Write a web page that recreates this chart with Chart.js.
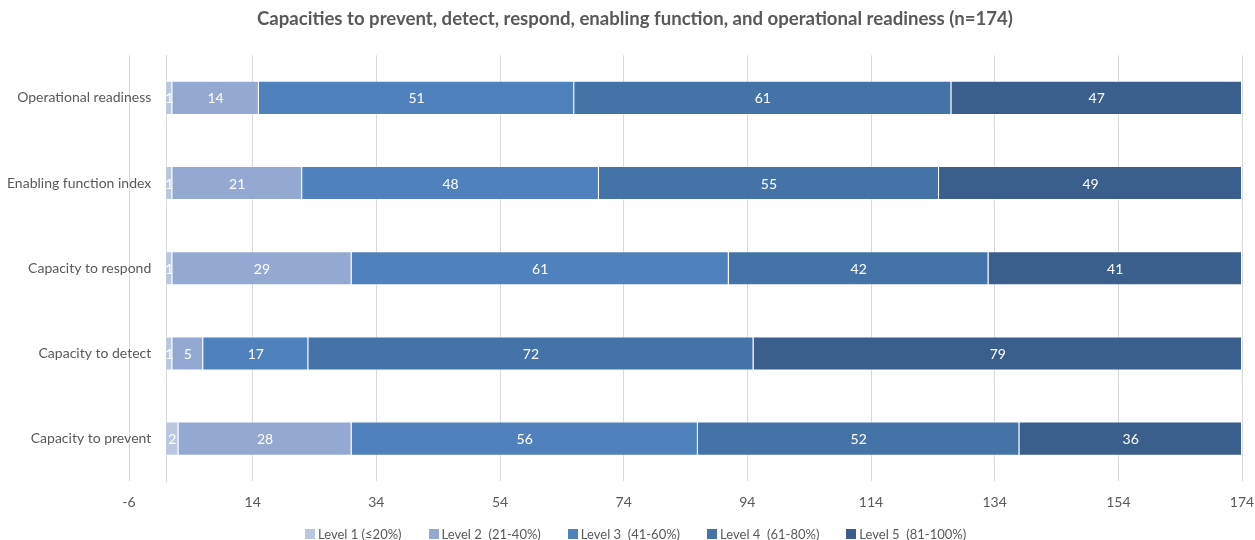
<!DOCTYPE html>
<html>
<head>
<meta charset="utf-8">
<script src="https://cdn.jsdelivr.net/npm/chart.js@4.4.1/dist/chart.umd.min.js"></script>
<style>
html,body{margin:0;padding:0;background:#fff;}
#wrap{width:1255px;height:540px;position:relative;}
#legend{position:absolute;left:305px;top:525px;height:17px;display:flex;align-items:center;gap:27px;font-family:Lato,sans-serif;font-size:13px;color:#595959;white-space:pre;}
#legend .item{display:flex;align-items:center;}
#legend .box{width:10px;height:10px;margin-right:3px;}
</style>
</head>
<body>
<div id="wrap"><canvas id="c" width="1255" height="540"></canvas><div id="legend"></div></div>
<script>
const categories = ['Operational readiness','Enabling function index','Capacity to respond','Capacity to detect','Capacity to prevent'];
const seriesNames = ['Level 1 (\u226420%)','Level 2  (21-40%)','Level 3  (41-60%)','Level 4  (61-80%)','Level 5  (81-100%)'];
const level1 = [1,1,1,1,2];
const level2 = [14,21,29,5,28];
const level3 = [51,48,61,17,56];
const level4 = [61,55,42,72,52];
const level5 = [47,49,41,79,36];
const xTickValues = [-6,14,34,54,74,94,114,134,154,174];
const colors = ['#b9c7e1','#94a9d2','#4f81bd','#4473a8','#3a5f8d'];
const titleText = 'Capacities to prevent, detect, respond, enabling function, and operational readiness (n=174)';

const FONT = 'Lato';
const GREY = '#595959';

const valueLabels = {
  id: 'valueLabels',
  afterDatasetsDraw(chart) {
    const ctx = chart.ctx;
    ctx.save();
    ctx.fillStyle = '#ffffff';
    ctx.font = '14px ' + FONT;
    ctx.textAlign = 'center';
    ctx.textBaseline = 'middle';
    chart.data.datasets.forEach((ds, di) => {
      const meta = chart.getDatasetMeta(di);
      meta.data.forEach((el, i) => {
        const p = el.getCenterPoint();
        ctx.fillText(String(ds.data[i]), p.x, p.y + 1);
      });
    });
    ctx.restore();
  }
};

const seriesData = [level1, level2, level3, level4, level5];
const chart = new Chart(document.getElementById('c'), {
  type: 'bar',
  data: {
    labels: categories,
    datasets: seriesData.map((d, i) => ({
      label: seriesNames[i],
      data: d,
      backgroundColor: colors[i],
      borderColor: 'rgba(255,255,255,0.35)',
      borderWidth: 1,
      borderSkipped: 'start',
      categoryPercentage: 1,
      barPercentage: 0.4
    }))
  },
  options: {
    indexAxis: 'y',
    responsive: false,
    animation: false,
    layout: { padding: { left: 15, right: 0, top: 0, bottom: 16 } },
    scales: {
      x: {
        type: 'linear',
        stacked: true,
        min: -6,
        max: 174,
        afterBuildTicks: (s) => { s.ticks = xTickValues.map(v => ({ value: v })); },
        afterFit: (s) => { s.paddingLeft = 129; s.paddingRight = 13; },
        grid: { color: '#d9d9d9', lineWidth: 1, drawTicks: false },
        border: { display: false },
        ticks: { color: GREY, font: { family: FONT, size: 14 }, padding: 13, callback: (v) => String(v) }
      },
      y: {
        type: 'category',
        stacked: true,
        position: { x: -2.4 },
        grid: { display: false, drawTicks: false },
        border: { display: false },
        ticks: { color: GREY, font: { family: FONT, size: 14 }, padding: 0 }
      },
      yZero: {
        type: 'category',
        axis: 'y',
        position: { x: 0 },
        grid: { display: false, drawTicks: false },
        border: { display: true, color: '#d9d9d9', width: 1 },
        ticks: { display: false }
      }
    },
    plugins: {
      title: {
        display: true,
        text: titleText,
        color: GREY,
        font: { family: FONT, size: 18.6, weight: 'bold' },
        padding: { top: 8, bottom: 25 }
      },
      legend: { display: false },
      tooltip: { enabled: false }
    }
  },
  plugins: [valueLabels]
});

const legendEl = document.getElementById('legend');
seriesNames.forEach((name, i) => {
  const item = document.createElement('div');
  item.className = 'item';
  const box = document.createElement('span');
  box.className = 'box';
  box.style.background = colors[i];
  const txt = document.createElement('span');
  txt.textContent = name;
  item.appendChild(box);
  item.appendChild(txt);
  legendEl.appendChild(item);
});
</script>
</body>
</html>
